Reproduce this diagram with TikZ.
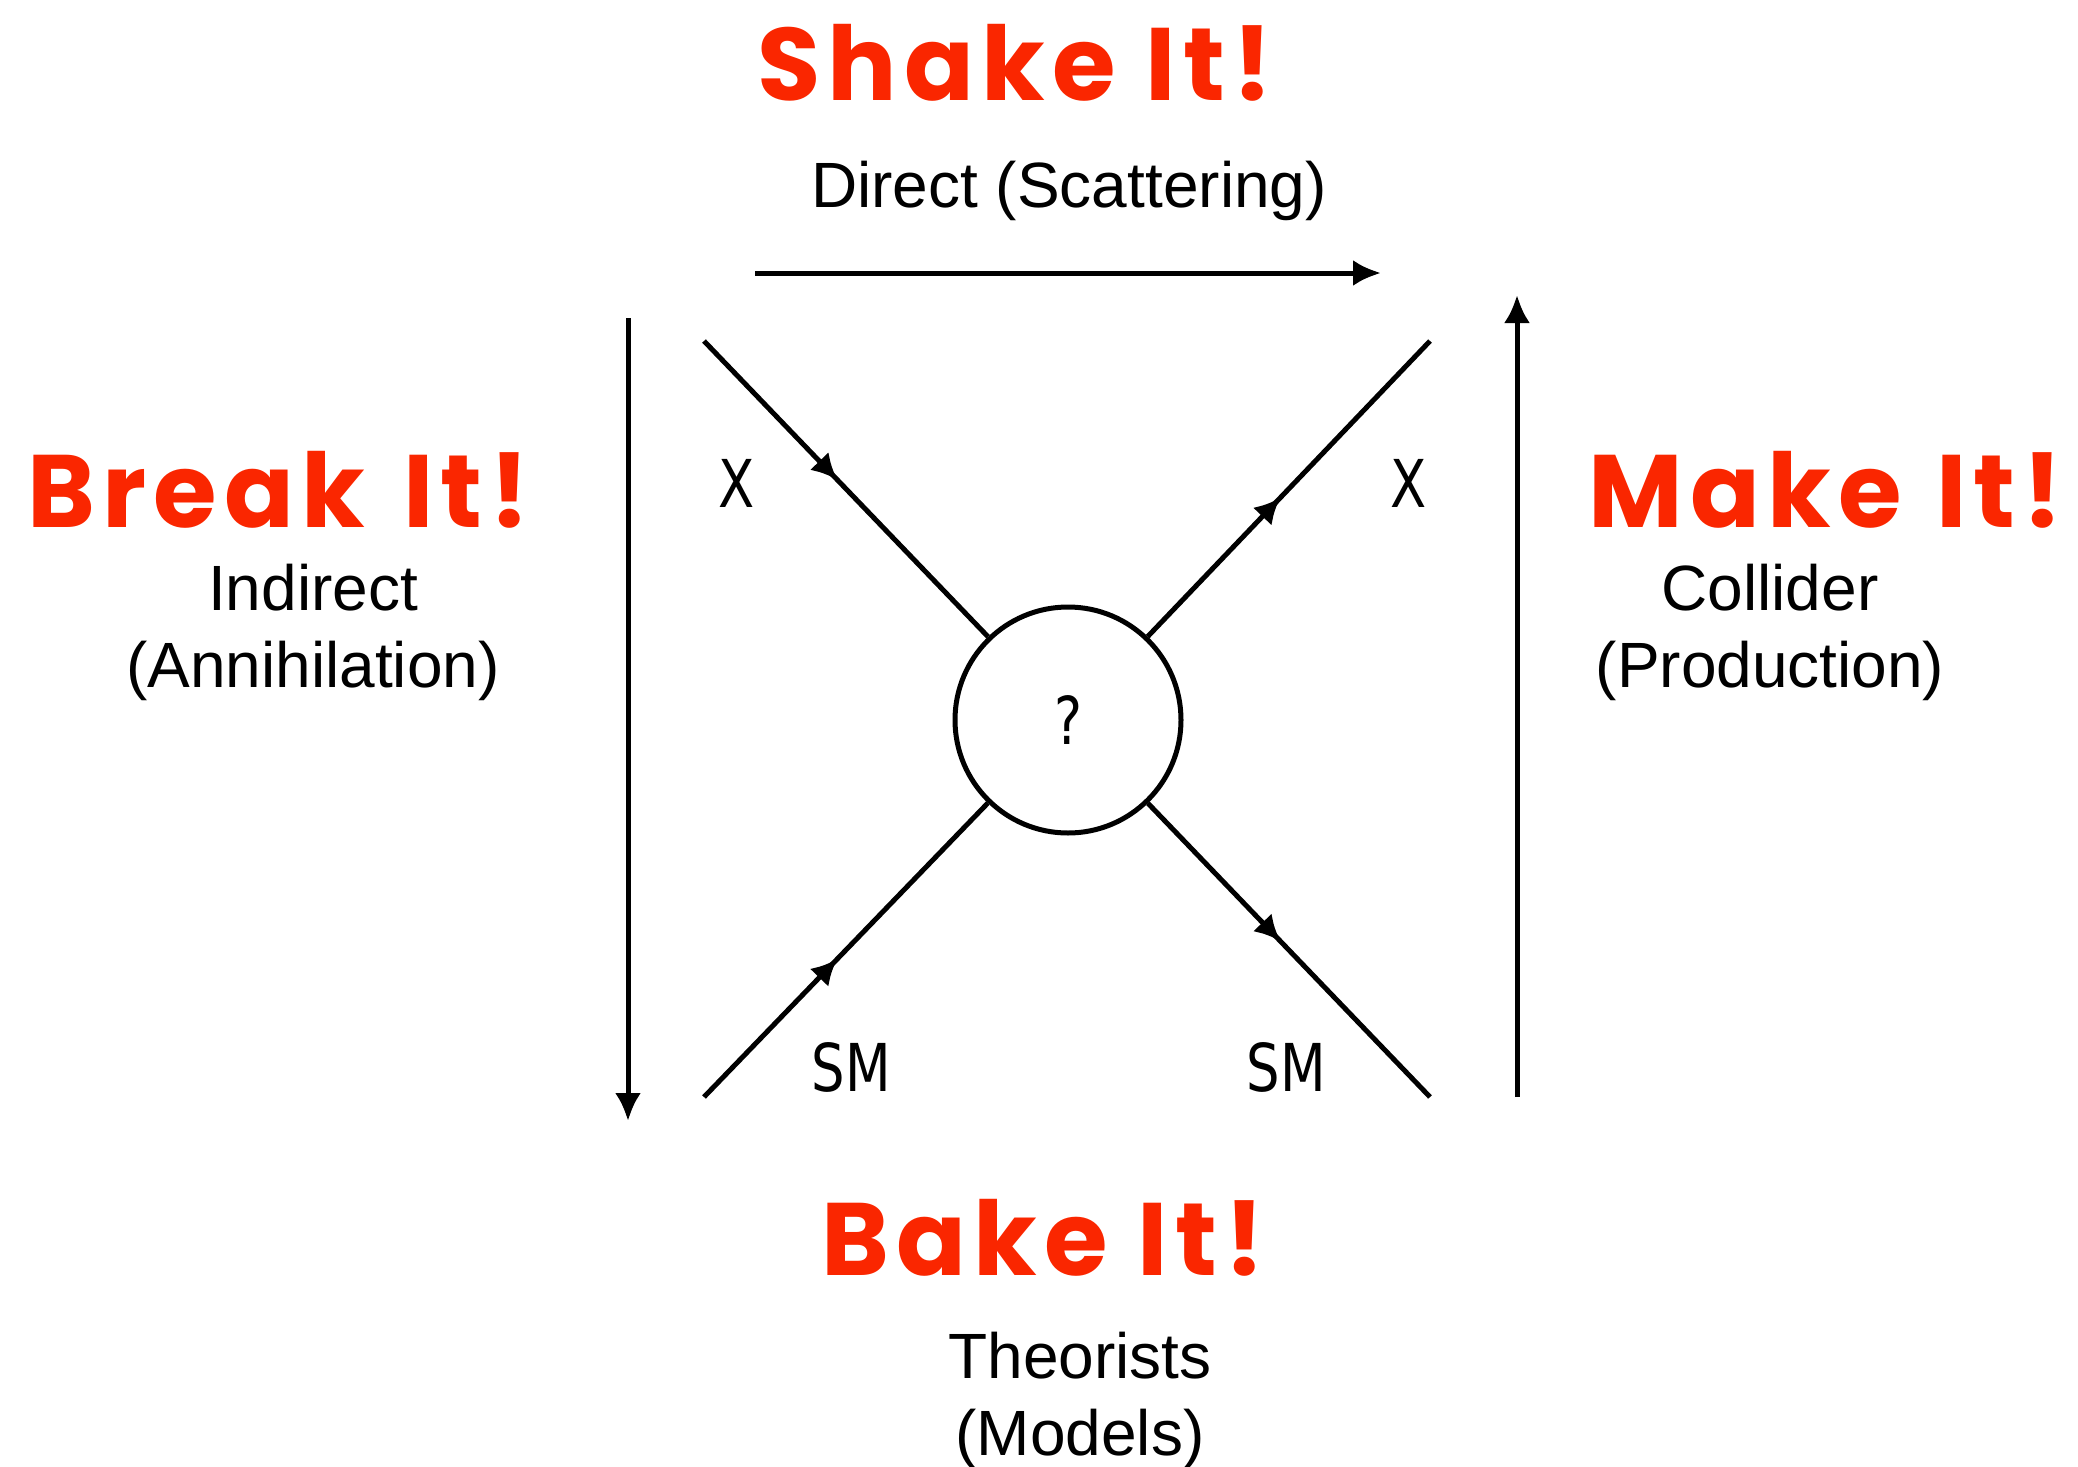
\documentclass[tikz,border=0pt]{standalone}
\usepackage{fontspec}
\setmainfont{Liberation Sans}
\newfontfamily\chalkfont[LetterSpace=7]{Poppins}
\newfontfamily\diagfont[FakeStretch=0.8]{DejaVu Sans}
\usetikzlibrary{positioning,arrows.meta,decorations.markings}
\definecolor{chalkred}{RGB}{250,38,0}

\begin{document}
\begin{tikzpicture}[x=1pt,y=-1pt,line width=5pt,>={Latex[length=28pt,width=26pt]},
  motto/.style={font=\chalkfont\bfseries\fontsize{103}{110}\selectfont,text=chalkred,anchor=base,inner sep=0pt},
  caption/.style={font=\fontsize{64}{77}\selectfont,align=center,anchor=base,inner sep=0pt},
  particle/.style={font=\diagfont\fontsize{66}{70}\selectfont,anchor=base,inner sep=0pt},
  blob/.style={draw,circle,minimum size=226pt,inner sep=0pt,font=\diagfont\fontsize{66}{70}\selectfont},
  fermion/.style={postaction={decorate},decoration={markings,
    mark=at position 0.47 with {\arrow{Latex[length=26pt,width=26pt]}}}}]
  \useasboundingbox (0,0) rectangle (2078,1467);
  % the four ways in
  \node[motto] (shake) at (1015,100) {Shake\hspace{30pt}It!};
  \node[motto] (break) at (279,527) {Break\hspace{38pt}It!};
  \node[motto] (make) at (1826,527) {Make\hspace{34pt}It!};
  \node[motto] (bake) at (1043,1275) {Bake\hspace{30pt}It!};
  \node[caption] (direct) at (1069,207) {Direct (Scattering)};
  \node[caption] (indirect) at (313,687) {Indirect\\(Annihilation)};
  \node[caption] (collider) at (1770,687) {Collider\\(Production)};
  \node[caption] (theorists) at (1080,1455) {Theorists\\(Models)};
  % vertex
  \node[blob] (vertex) at (1068,720) {?};
  \coordinate (xa) at (704,341);
  \coordinate (xb) at (1430,341);
  \coordinate (sma) at (704,1097);
  \coordinate (smb) at (1430,1097);
  \draw[fermion] (xa) -- (vertex);
  \draw[fermion] (vertex) -- (xb);
  \draw[fermion] (sma) -- (vertex);
  \draw[fermion] (vertex) -- (smb);
  \node[particle] (xin) at (737,507) {X};
  \node[particle] (xout) at (1409,507) {X};
  \node[particle] (smin) at (851,1091) {SM};
  \node[particle] (smout) at (1286,1091) {SM};
  % time directions
  \coordinate (dirs) at (755,273);
  \coordinate (dirt) at (1381,273);
  \coordinate (inds) at (628,318);
  \coordinate (indt) at (628,1121);
  \coordinate (cols) at (1517,1097);
  \coordinate (colt) at (1517,295);
  \draw[->] (dirs) -- (dirt);
  \draw[->] (inds) -- (indt);
  \draw[->] (cols) -- (colt);
\end{tikzpicture}
\end{document}
